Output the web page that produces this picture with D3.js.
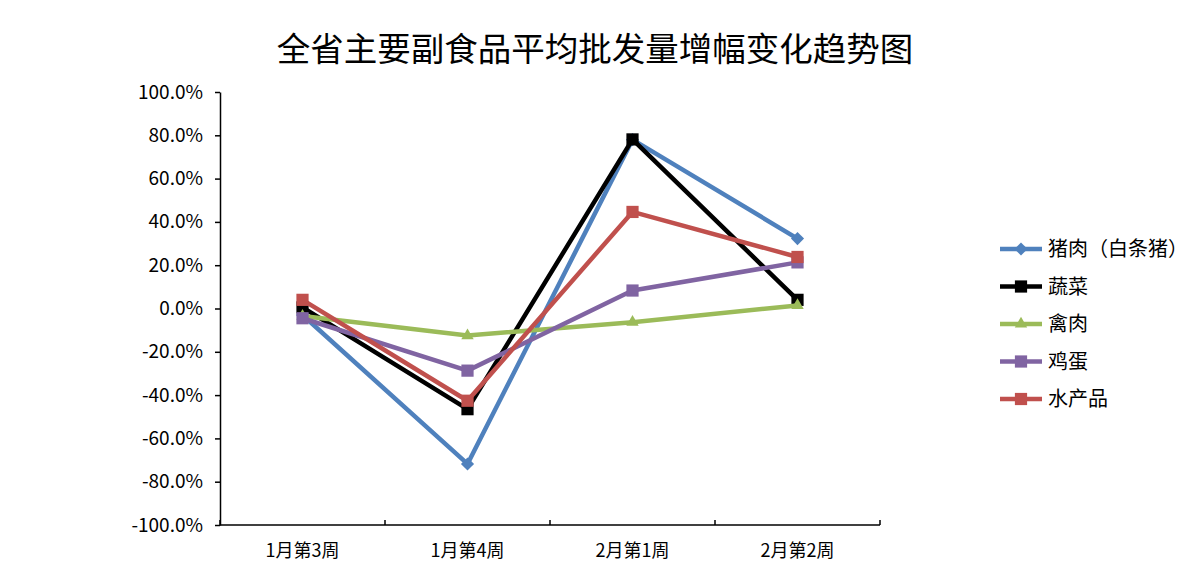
<!DOCTYPE html>
<html>
<head>
<meta charset="utf-8">
<script src="https://cdn.jsdelivr.net/npm/d3@7"></script>
<style>
  body { margin: 0; background: #fff; }
  text { font-family: "Noto Sans CJK SC", sans-serif; }
</style>
</head>
<body>
<svg width="1201" height="583"></svg>
<script>
// chart data
const weeks = ['1月第3周', '1月第4周', '2月第1周', '2月第2周'];
const seriesNames = ['猪肉（白条猪）', '蔬菜', '禽肉', '鸡蛋', '水产品'];
const pork = [-3.0, -71.8, 78.0, 32.3];
const vegetables = [0.5, -46.5, 78.1, 4.0];
const poultry = [-3.5, -12.5, -6.3, 1.4];
const eggs = [-4.5, -28.7, 8.3, 21.3];
const aquatic = [4.0, -42.6, 44.6, 23.8];
const yTicks = [-100, -80, -60, -40, -20, 0, 20, 40, 60, 80, 100];

const colors = ['#4F81BD', '#000000', '#9BBB59', '#8064A2', '#C0504D'];
const shapes = ['diamond', 'square', 'triangle', 'square', 'square'];
const values = [pork, vegetables, poultry, eggs, aquatic];

const svg = d3.select('svg');
const plot = { left: 220, right: 880, top: 92, bottom: 525 };

const x = d3.scaleBand().domain(weeks).range([plot.left, plot.right]);
const y = d3.scaleLinear().domain([-100, 100]).range([plot.bottom, plot.top]);

// title
svg.append('text')
    .attr('x', 595).attr('y', 61)
    .attr('text-anchor', 'middle')
    .attr('font-size', 33.5)
    .attr('font-weight', 400)
    .text('全省主要副食品平均批发量增幅变化趋势图');

// y axis
const yAxis = svg.append('g')
    .attr('transform', `translate(${plot.left},0)`)
    .call(d3.axisLeft(y).tickValues(yTicks).tickSize(5).tickSizeOuter(0)
        .tickFormat(d => d.toFixed(1) + '%'));
yAxis.select('.domain').attr('stroke', '#000').attr('stroke-width', 1.5);
yAxis.selectAll('.tick line').attr('stroke', '#000').attr('stroke-width', 1.5);
yAxis.selectAll('.tick text')
    .attr('x', -17)
    .attr('font-family', 'Lato, "Liberation Sans", sans-serif')
    .attr('font-size', 19)
    .attr('fill', '#000');

// x axis (ticks sit between categories, pointing up)
const xAxis = svg.append('g')
    .attr('transform', `translate(0,${plot.bottom})`);
xAxis.append('line')
    .attr('x1', plot.left).attr('x2', plot.right)
    .attr('stroke', '#000').attr('stroke-width', 1.5);
const bounds = weeks.map(w => x(w) + x.bandwidth()).concat([plot.left]);
xAxis.selectAll('.xtick')
    .data(bounds)
    .join('line')
    .attr('x1', d => d).attr('x2', d => d)
    .attr('y1', 0).attr('y2', -5)
    .attr('stroke', '#000').attr('stroke-width', 1.5);
xAxis.selectAll('.xlabel')
    .data(weeks)
    .join('text')
    .attr('x', d => x(d) + x.bandwidth() / 2)
    .attr('y', 32)
    .attr('text-anchor', 'middle')
    .attr('font-size', 18)
    .text(d => d);

function symbolFor(shape) {
    if (shape === 'diamond') return d3.symbol().type(d3.symbolDiamond2).size(110)();
    if (shape === 'triangle') return d3.symbol().type(d3.symbolTriangle2).size(110)();
    return d3.symbol().type(d3.symbolSquare2).size(190)();
}

const cx = w => x(w) + x.bandwidth() / 2;
const line = d3.line().x((d, i) => cx(weeks[i])).y(d => y(d));

seriesNames.forEach((name, s) => {
    const g = svg.append('g');
    g.append('path')
        .datum(values[s])
        .attr('d', line)
        .attr('fill', 'none')
        .attr('stroke', colors[s])
        .attr('stroke-width', 4.5)
        .attr('stroke-linejoin', 'round');
    g.selectAll('path.mark')
        .data(values[s])
        .join('path')
        .attr('class', 'mark')
        .attr('transform', (d, i) => `translate(${cx(weeks[i])},${y(d)})`)
        .attr('d', symbolFor(shapes[s]))
        .attr('fill', colors[s]);
});

// legend
const legend = svg.append('g').attr('transform', 'translate(1000,249)');
seriesNames.forEach((name, s) => {
    const row = legend.append('g').attr('transform', `translate(0,${s * 37.5})`);
    row.append('line')
        .attr('x1', 0).attr('x2', 42)
        .attr('stroke', colors[s]).attr('stroke-width', 4.5);
    row.append('path')
        .attr('transform', 'translate(21,0)')
        .attr('d', symbolFor(shapes[s]))
        .attr('fill', colors[s]);
    row.append('text')
        .attr('x', 48).attr('y', 7)
        .attr('font-size', 20)
        .text(name);
});
</script>
</body>
</html>
